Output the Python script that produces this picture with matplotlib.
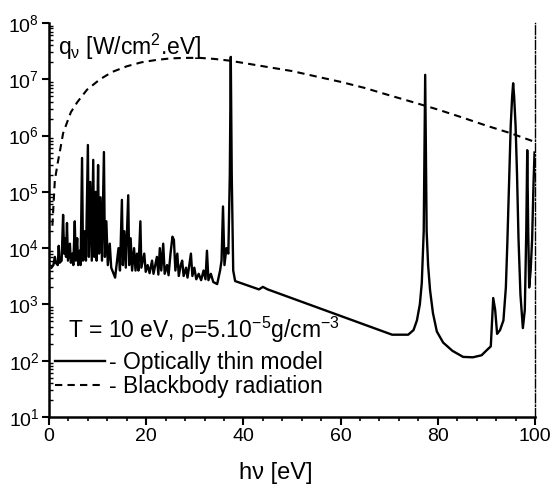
import matplotlib
matplotlib.use('Agg')
import matplotlib.pyplot as plt
from matplotlib.ticker import LogLocator, MultipleLocator, NullFormatter

plt.rcParams['font.family'] = ['Liberation Sans', 'DejaVu Sans']
plt.rcParams['mathtext.fontset'] = 'custom'
plt.rcParams['mathtext.rm'] = 'Liberation Sans'
plt.rcParams['mathtext.it'] = 'Liberation Sans:italic'
plt.rcParams['mathtext.bf'] = 'Liberation Sans:bold'

# optically thin spectrum, vertices (eV, W/cm2.eV)
thin_e = [0.5, 0.9, 1.2, 1.4, 1.8, 2.0, 2.2, 2.6, 2.9, 3.1, 3.3, 3.5, 3.7, 3.9,
          4.3, 4.5, 4.8, 5.0, 5.3, 5.5, 5.8, 6.0, 6.3, 6.5, 6.8, 7.0, 7.3, 7.6,
          8.0, 8.2, 8.5, 8.8, 9.1, 9.3, 9.6, 9.8, 10.1, 10.3, 10.6, 10.9, 11.3,
          11.5, 11.8, 12.1, 12.5, 12.8, 13.6, 14.3, 14.6, 15.0, 15.2, 15.5, 15.8,
          16.3, 16.5, 16.8, 17.1, 17.5, 17.8, 18.1, 18.4, 18.8, 19.0, 19.6, 19.9,
          20.3, 20.7, 21.2, 21.5, 22.2, 22.5, 22.8, 23.1, 23.5, 23.8, 24.3, 24.6,
          25.0, 25.4, 25.7, 26.0, 26.4, 26.7, 27.1, 27.4, 27.7, 28.2, 28.5, 29.2,
          29.5, 29.9, 30.3, 30.8, 31.3, 31.8, 32.2, 32.5, 32.8, 33.3, 33.8, 34.6,
          35.2, 35.5, 35.8, 36.1, 36.5, 36.9, 37.2, 37.4, 37.6, 37.9, 38.3, 40.7,
          43.2, 44.0, 45.0, 70.6, 73.9, 75.0, 75.7, 76.3, 76.7, 77.1, 77.4, 77.7,
          78.0, 78.4, 79.0, 79.8, 81.1, 83.0, 85.2, 87.2, 89.0, 90.1, 90.9, 91.4,
          91.8, 92.2, 92.8, 93.5, 94.0, 94.3, 94.6, 95.0, 95.3, 95.5, 95.7, 96.0,
          96.3, 96.6, 97.0, 97.5, 97.9, 98.2, 98.4, 98.6, 98.8, 99.1, 99.4, 99.7,
          99.9]
thin_q = [4.5e3, 5e3, 7e3, 5.5e3, 5e3, 1.1e4, 5.5e3, 6e3, 3.9e4, 8e3, 1.5e4, 7e3, 2.8e4, 6e3,
          1.2e4, 5.5e3, 8e3, 5e3, 3e4, 6e3, 1.5e4, 5e3, 9e3, 5e3, 4e5, 6e3, 2e4, 6e3,
          6.8e5, 7e3, 1.5e5, 6e3, 3.7e5, 7e3, 1e5, 6e3, 3e5, 8e3, 8e4, 6e3, 5.1e5,
          7e3, 3e4, 5e3, 1.2e4, 4.5e3, 3e3, 1e4, 4e3, 7.2e4, 5e3, 2e4, 4.5e3,
          8.7e4, 5e3, 1.5e4, 4e3, 1e4, 4e3, 8e3, 4e3, 3e4, 4.5e3, 8e3, 3.8e3,
          5e3, 3.6e3, 6e3, 3.5e3, 7e3, 3.4e3, 1e4, 4e3, 1.2e4, 3.5e3, 5e3, 3.3e3,
          8e3, 1.6e4, 1.4e4, 4e3, 8e3, 3.2e3, 5e3, 6e3, 3.2e3, 4.5e3, 3e3, 8e3,
          3.2e3, 4.5e3, 2.8e3, 3.5e3, 2.7e3, 4e3, 2.8e3, 9e3, 2.7e3, 3.5e3, 2.5e3, 2.3e3,
          4e3, 6e3, 5.5e4, 5e3, 1e4, 8e3, 2e5, 2.5e7, 2e5, 4e3, 2.6e3, 2.2e3,
          1.85e3, 2.05e3, 1.85e3, 290, 290, 350, 520, 1e3, 2.4e3, 2e4, 1.2e7, 2e4,
          5e3, 1.8e3, 700, 330, 210, 150, 117, 115, 125, 155, 180, 1.3e3,
          800, 300, 350, 520, 2e3, 1.2e4, 1e5, 1.5e6, 5e6, 8.5e6, 5e6, 1.5e6,
          2e5, 1.5e4, 1.5e3, 380, 800, 2e4, 5.5e5, 2e4, 2e3, 4e3, 1.4e4, 1.5e5,
          5e5]

# blackbody curve
bb_e = [0.7, 0.9, 1.2, 1.8, 2.3, 2.9, 3.7, 4.5, 5.8, 7.8, 10.5, 13, 16, 19, 22, 25,
        28, 31, 34, 37, 40, 45, 50, 55, 60, 65, 70, 75, 80, 85, 90, 95, 100]
bb_q = [2.5e4, 5.4e4, 1.6e5, 3.3e5, 5.6e5, 1.1e6, 1.7e6, 2.6e6, 3.9e6, 6.5e6, 1.0e7,
        1.35e7, 1.7e7, 2.0e7, 2.2e7, 2.35e7, 2.4e7, 2.4e7, 2.3e7, 2.15e7, 1.95e7,
        1.65e7, 1.4e7, 1.12e7, 9e6, 7e6, 5.2e6, 3.9e6, 2.9e6, 2.1e6, 1.5e6, 1.1e6, 7.7e5]

fig = plt.figure(figsize=(5.55, 4.87), dpi=100)
ax = fig.add_axes([0.0883, 0.1437, 0.8757, 0.8091])

ax.plot(thin_e, thin_q, color='black', lw=1.7, label='- Optically thin model')
ax.plot(bb_e, bb_q, color='black', lw=1.5, dashes=(3.5, 2.5), label='- Blackbody radiation')

ax.set_yscale('log')
ax.set_xlim(0, 100)
ax.set_ylim(10, 1e8)
ax.xaxis.set_major_locator(MultipleLocator(20))
ax.xaxis.set_minor_locator(MultipleLocator(4))
ax.yaxis.set_major_locator(LogLocator(base=10, numticks=10))
ax.yaxis.set_minor_locator(LogLocator(base=10, subs=range(2, 10), numticks=20))
ax.yaxis.set_minor_formatter(NullFormatter())

ax.tick_params(axis='x', which='major', direction='out', length=6, width=1.5, labelsize=14, pad=2)
ax.tick_params(axis='x', which='minor', direction='out', length=3, width=1.2)
ax.tick_params(axis='y', which='major', direction='out', length=5, width=1.5, labelsize=14, pad=2)
ax.tick_params(axis='y', which='minor', direction='in', length=3, width=1.0)

ax.spines['top'].set_visible(False)
ax.spines['left'].set_linewidth(1.8)
ax.spines['bottom'].set_linewidth(1.8)
ax.spines['right'].set_linestyle('-.')
ax.spines['right'].set_linewidth(1.0)

ax.set_xlabel('hν [eV]', fontsize=17, labelpad=6)
ax.xaxis.set_label_coords(0.467, -0.115)
ax.text(0.0185, 0.919, 'q$_\\mathregular{ν}$ [W/cm$^\\mathregular{2}$.eV]', transform=ax.transAxes,
        fontsize=16.5, va='baseline', ha='left')
ax.text(0.04, 0.2, 'T = 10 eV, ρ=5.10$^\\mathregular{-5}$g/cm$^\\mathregular{-3}$', transform=ax.transAxes,
        fontsize=16.5, va='baseline', ha='left')
ax.legend(loc='lower left', bbox_to_anchor=(0.012, 0.048), frameon=False, fontsize=16.5,
          handlelength=2.2, handletextpad=0.15, labelspacing=0.05, borderaxespad=0,
          borderpad=0)

fig.savefig('out.png', dpi=100)
